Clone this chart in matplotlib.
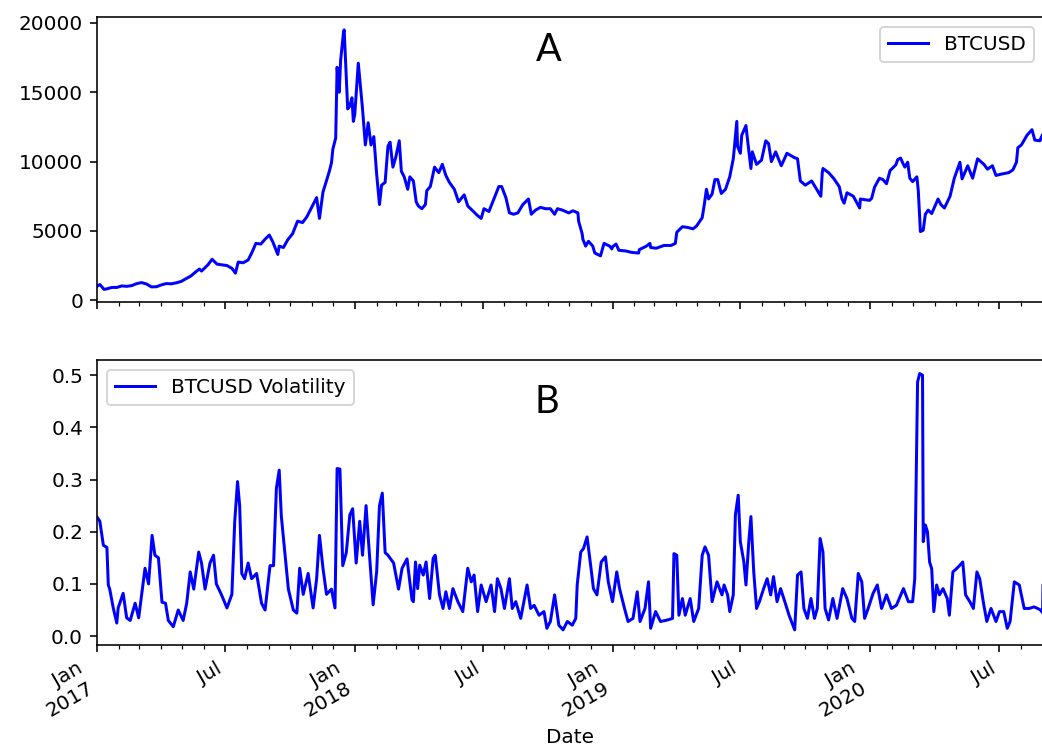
import pandas as pd
import matplotlib
matplotlib.use('Agg')
import matplotlib.pyplot as plt
import matplotlib.dates as mdates
from matplotlib.ticker import FuncFormatter

# BTCUSD close (day number counted from 2017-01-01)
price_days = [
    0, 4, 10, 14, 21, 28, 35, 42, 49, 56, 63, 70, 77, 84, 91, 98, 105, 112, 119, 126,
    133, 140, 145, 148, 152, 157, 163, 170, 177, 184, 191, 196, 200, 207, 214, 219, 225, 232, 238, 244,
    249, 256, 258, 264, 270, 277, 284, 291, 297, 304, 311, 315, 320, 329, 332, 334, 338, 340, 341, 343,
    345, 349, 350, 353, 355, 358, 361, 363, 365, 370, 374, 376, 380, 384, 388, 392, 396, 400, 403, 408,
    412, 415, 419, 423, 428, 431, 435, 440, 443, 448, 452, 455, 460, 465, 467, 472, 478, 484, 489, 494,
    499, 506, 512, 520, 525, 531, 539, 544, 548, 555, 562, 569, 573, 579, 584, 590, 596, 603, 611, 615,
    621, 628, 635, 642, 648, 652, 659, 668, 674, 681, 682, 687, 688, 692, 693, 696, 702, 705, 713, 718,
    722, 726, 729, 730, 735, 739, 749, 757, 767, 768, 778, 783, 784, 792, 803, 813, 819, 821, 829, 836,
    844, 849, 857, 860, 863, 866, 871, 875, 879, 884, 890, 896, 901, 902, 906, 907, 911, 913, 919, 920,
    926, 928, 934, 941, 947, 951, 955, 961, 969, 977, 987, 992, 996, 1003, 1012, 1019, 1025, 1027, 1028, 1036,
    1043, 1051, 1055, 1058, 1062, 1071, 1080, 1081, 1088, 1094, 1097, 1101, 1108, 1113, 1118, 1123, 1131, 1134, 1138, 1141,
    1144, 1148, 1151, 1155, 1161, 1163, 1166, 1170, 1173, 1177, 1182, 1191, 1195, 1200, 1208, 1214, 1222, 1225, 1233, 1240,
    1247, 1256, 1261, 1268, 1273, 1281, 1291, 1297, 1302, 1304, 1309, 1317, 1324, 1328, 1335, 1339, 1340, 1341,
]
btc_price = [
    1000, 1130, 780, 820, 920, 920, 1030, 1000, 1050, 1190, 1270, 1170, 960, 970, 1100, 1200, 1180, 1250, 1350, 1550,
    1750, 2050, 2250, 2100, 2300, 2550, 2950, 2600, 2550, 2500, 2300, 1950, 2750, 2700, 2900, 3400, 4100, 4050, 4400, 4700,
    4200, 3300, 3900, 3800, 4350, 4800, 5700, 5600, 6000, 6700, 7400, 5900, 7800, 9300, 9900, 10900, 11700, 16800, 16100, 15000,
    17300, 19300, 19500, 16000, 13800, 14000, 14600, 12900, 13400, 17100, 14900, 13800, 11200, 12800, 11200, 11800, 9100, 6900, 8300, 8500,
    11100, 11400, 9600, 10300, 11500, 9300, 8900, 8000, 8900, 8600, 7100, 6800, 6600, 6900, 7900, 8200, 9600, 9200, 9800, 9000,
    8500, 8000, 7100, 7600, 6800, 6500, 6100, 5900, 6600, 6400, 7300, 8200, 8200, 7400, 6300, 6200, 6300, 6900, 7300, 6200,
    6500, 6700, 6600, 6600, 6200, 6600, 6500, 6300, 6450, 6300, 5700, 4800, 4400, 3900, 4000, 4250, 3900, 3400, 3200, 4100,
    4000, 3900, 3700, 3850, 4050, 3600, 3550, 3450, 3400, 3650, 3900, 4100, 3800, 3750, 3950, 3950, 4100, 4900, 5300, 5250,
    5150, 5350, 5950, 6900, 8000, 7300, 7650, 8700, 8700, 7700, 8000, 8900, 10200, 10700, 12900, 11100, 10600, 11900, 12600, 12100,
    9500, 10700, 9800, 10100, 11500, 11300, 10000, 10700, 9700, 10600, 10300, 10200, 8600, 8300, 8600, 8000, 7500, 9200, 9500, 9200,
    8800, 8200, 7300, 7000, 7750, 7500, 6650, 7300, 7250, 7200, 7350, 8150, 8800, 8700, 8400, 9350, 9750, 10150, 10250, 9900,
    9600, 9950, 8800, 8550, 8900, 7900, 4950, 5050, 6200, 6500, 6250, 7300, 6900, 6650, 7500, 8800, 9950, 8750, 9700, 8800,
    10200, 9800, 9450, 9700, 9000, 9100, 9200, 9400, 9950, 11000, 11200, 11900, 12300, 11550, 11500, 11950, 11400, 10200,
]

# BTCUSD volatility
vol_days = [
    0, 4, 9, 14, 16, 18, 23, 28, 30, 37, 42, 47, 54, 59, 68, 73, 78, 82, 87, 92,
    97, 101, 108, 115, 122, 127, 132, 137, 144, 148, 153, 160, 165, 169, 176, 184, 191, 195, 199, 202,
    205, 209, 214, 219, 226, 233, 238, 245, 250, 254, 258, 261, 266, 271, 278, 283, 287, 292, 299, 306,
    311, 315, 320, 325, 332, 337, 340, 344, 348, 353, 358, 362, 367, 372, 376, 381, 384, 391, 396, 400,
    404, 408, 412, 420, 427, 432, 439, 446, 448, 451, 454, 457, 462, 466, 471, 476, 479, 485, 490, 494,
    499, 504, 511, 518, 525, 530, 534, 539, 544, 551, 558, 563, 567, 572, 577, 584, 588, 593, 600, 609,
    614, 619, 626, 633, 637, 642, 648, 654, 660, 666, 673, 678, 680, 685, 689, 694, 699, 703, 708, 714,
    720, 724, 730, 736, 740, 747, 752, 759, 765, 769, 776, 781, 784, 791, 798, 808, 815, 817, 821, 824,
    829, 833, 840, 845, 852, 857, 861, 866, 871, 878, 885, 888, 893, 896, 901, 904, 908, 911, 916, 919,
    923, 926, 930, 934, 938, 944, 949, 954, 958, 963, 968, 974, 980, 988, 992, 997, 1001, 1006, 1011, 1016,
    1020, 1024, 1028, 1031, 1036, 1042, 1048, 1056, 1062, 1069, 1073, 1078, 1083, 1087, 1092, 1099, 1105, 1111, 1118, 1125,
    1132, 1142, 1149, 1155, 1158, 1162, 1165, 1169, 1170, 1173, 1176, 1179, 1182, 1185, 1189, 1193, 1198, 1204, 1207, 1212,
    1217, 1222, 1226, 1230, 1236, 1241, 1246, 1250, 1255, 1260, 1266, 1273, 1278, 1284, 1289, 1293, 1299, 1306, 1313, 1320,
    1327, 1332, 1336, 1339, 1340, 1341,
]
btc_vol = [
    0.228, 0.22, 0.174, 0.17, 0.098, 0.09, 0.054, 0.025, 0.054, 0.082, 0.035, 0.03, 0.063, 0.035, 0.13, 0.10, 0.193, 0.155, 0.15, 0.065,
    0.063, 0.03, 0.018, 0.05, 0.03, 0.063, 0.123, 0.09, 0.161, 0.14, 0.09, 0.14, 0.155, 0.10, 0.08, 0.054, 0.08, 0.219, 0.296, 0.25,
    0.12, 0.11, 0.14, 0.11, 0.12, 0.063, 0.05, 0.135, 0.135, 0.283, 0.318, 0.23, 0.16, 0.09, 0.05, 0.044, 0.13, 0.08, 0.12, 0.054,
    0.11, 0.193, 0.13, 0.08, 0.09, 0.054, 0.321, 0.32, 0.135, 0.16, 0.232, 0.244, 0.14, 0.22, 0.155, 0.25, 0.19, 0.06, 0.123, 0.25,
    0.274, 0.16, 0.155, 0.14, 0.09, 0.13, 0.148, 0.07, 0.066, 0.142, 0.091, 0.136, 0.117, 0.142, 0.072, 0.149, 0.155, 0.079, 0.053, 0.085,
    0.053, 0.091, 0.066, 0.047, 0.13, 0.104, 0.117, 0.047, 0.098, 0.066, 0.098, 0.047, 0.11, 0.091, 0.053, 0.11, 0.053, 0.066, 0.034, 0.098,
    0.053, 0.059, 0.04, 0.047, 0.015, 0.028, 0.079, 0.021, 0.012, 0.028, 0.021, 0.034, 0.098, 0.161, 0.168, 0.19, 0.136, 0.091, 0.079, 0.142,
    0.152, 0.104, 0.066, 0.123, 0.091, 0.053, 0.028, 0.034, 0.085, 0.028, 0.053, 0.104, 0.015, 0.047, 0.028, 0.031, 0.034, 0.158, 0.155, 0.04,
    0.072, 0.04, 0.072, 0.028, 0.053, 0.155, 0.171, 0.155, 0.066, 0.104, 0.079, 0.098, 0.079, 0.047, 0.079, 0.232, 0.27, 0.181, 0.142, 0.098,
    0.181, 0.229, 0.123, 0.053, 0.066, 0.091, 0.11, 0.079, 0.114, 0.066, 0.091, 0.066, 0.04, 0.012, 0.117, 0.123, 0.053, 0.034, 0.072, 0.034,
    0.053, 0.187, 0.161, 0.053, 0.031, 0.072, 0.034, 0.091, 0.072, 0.034, 0.028, 0.12, 0.104, 0.034, 0.053, 0.082, 0.098, 0.053, 0.079, 0.053,
    0.059, 0.091, 0.066, 0.066, 0.11, 0.487, 0.503, 0.50, 0.181, 0.213, 0.20, 0.142, 0.129, 0.047, 0.098, 0.079, 0.091, 0.072, 0.04, 0.123,
    0.129, 0.136, 0.142, 0.079, 0.066, 0.053, 0.123, 0.11, 0.066, 0.028, 0.053, 0.028, 0.047, 0.047, 0.015, 0.028, 0.104, 0.098, 0.053, 0.053,
    0.056, 0.053, 0.05, 0.045, 0.13, 0.13,
]

start = pd.Timestamp('2017-01-01')
price_dates = start + pd.to_timedelta(price_days, unit='D')
vol_dates = start + pd.to_timedelta(vol_days, unit='D')

fig = plt.figure(figsize=(1042 / 144, 755 / 144), dpi=144)
ax1 = fig.add_axes([0.0931, 0.600, 0.9088, 0.3775])
ax2 = fig.add_axes([0.0931, 0.1457, 0.9088, 0.3775], sharex=ax1)

ax1.plot(price_dates, btc_price, color='blue', label='BTCUSD')
ax2.plot(vol_dates, btc_vol, color='blue', label='BTCUSD Volatility')

ax1.legend(loc='upper right')
ax2.legend(loc='upper left')

ax1.text(0.477, 0.884, 'A', transform=ax1.transAxes, fontsize=19,
         family='Lato', ha='center', va='center')
ax2.text(0.475, 0.854, 'B', transform=ax2.transAxes, fontsize=19,
         family='Lato', ha='center', va='center')

ax1.set_ylim(-130, 20430)
ax1.set_yticks([0, 5000, 10000, 15000, 20000])
ax2.set_ylim(-0.017, 0.529)
ax2.set_yticks([0.0, 0.1, 0.2, 0.3, 0.4, 0.5])

# Jan / Jul majors like pandas' date axis, monthly minors
def date_label(x, pos):
    d = mdates.num2date(x)
    if d.month == 1:
        return d.strftime('%b\n%Y')
    return d.strftime('%b')

ax2.xaxis.set_major_locator(mdates.MonthLocator(bymonth=[1, 7]))
ax2.xaxis.set_minor_locator(mdates.MonthLocator())
ax2.xaxis.set_major_formatter(FuncFormatter(date_label))
ax2.set_xlim(start, start + pd.Timedelta(days=1341))
ax1.tick_params(labelbottom=False)
plt.setp(ax2.get_xticklabels(), rotation=30, ha='right')
ax2.set_xlabel('Date')

fig.savefig('out.png', dpi=144)
